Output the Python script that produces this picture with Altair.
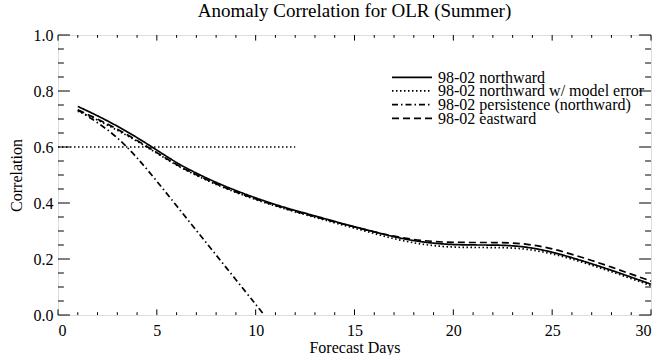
import altair as alt
import pandas as pd

W, H = 593, 280
FONT = "Liberation Serif"

days = list(range(1, 31))
northward = [0.745, 0.712, 0.675, 0.634, 0.589, 0.543, 0.506, 0.473, 0.444, 0.418,
             0.394, 0.373, 0.354, 0.334, 0.315, 0.297, 0.279, 0.265, 0.256, 0.251,
             0.250, 0.250, 0.248, 0.240, 0.225, 0.205, 0.183, 0.160, 0.135, 0.110]
model_error = [0.728, 0.697, 0.660, 0.621, 0.578, 0.534, 0.498, 0.466, 0.437, 0.412,
               0.389, 0.368, 0.349, 0.329, 0.310, 0.291, 0.272, 0.257, 0.247, 0.242,
               0.241, 0.241, 0.240, 0.233, 0.219, 0.200, 0.178, 0.155, 0.130, 0.105]
eastward = [0.733, 0.700, 0.664, 0.624, 0.580, 0.536, 0.500, 0.468, 0.439, 0.414,
            0.391, 0.370, 0.351, 0.332, 0.314, 0.297, 0.281, 0.269, 0.262, 0.259,
            0.259, 0.259, 0.258, 0.251, 0.237, 0.217, 0.195, 0.171, 0.146, 0.121]
persist_days = [1, 2, 3, 4, 5, 6, 7, 8, 9, 10, 10.43]
persistence = [0.732, 0.688, 0.636, 0.563, 0.478, 0.390, 0.302, 0.214, 0.126, 0.038, 0.0]

ref_days = [0, 12]
ref_vals = [0.6, 0.6]

series_names = ["98-02 northward", "98-02 northward w/ model error",
                "98-02 persistence (northward)", "98-02 eastward"]
dashes = [[1, 0], [1.5, 2.5], [6, 3, 1.5, 3], [7, 4]]

x_major = [0, 5, 10, 15, 20, 25, 30]
x_minor = [d for d in range(0, 31) if d % 5 != 0]
y_major = [0.0, 0.2, 0.4, 0.6, 0.8, 1.0]
y_minor = [round(0.05 * i, 2) for i in range(21) if i % 4 != 0]

rows = []
for d, v in zip(days, northward):
    rows.append({"day": d, "corr": v, "series": series_names[0]})
for d, v in zip(days, model_error):
    rows.append({"day": d, "corr": v, "series": series_names[1]})
for d, v in zip(persist_days, persistence):
    rows.append({"day": d, "corr": v, "series": series_names[2]})
for d, v in zip(days, eastward):
    rows.append({"day": d, "corr": v, "series": series_names[3]})
df = pd.DataFrame(rows)

xs = alt.Scale(domain=[0, 30], nice=False, zero=False)
ys = alt.Scale(domain=[0, 1], nice=False, zero=False)
dash_scale = alt.Scale(domain=series_names, range=dashes)

x_axis = alt.Axis(values=x_major, ticks=False, domain=False, grid=False,
                  labelFont=FONT, labelFontSize=16, labelPadding=7,
                  labelColor="black", title="Forecast Days", titleFont=FONT,
                  titleFontSize=16, titleFontWeight="normal", titleColor="black",
                  titlePadding=1)
y_axis = alt.Axis(values=y_major, format=".1f", ticks=False, domain=False, grid=False,
                  labelFont=FONT, labelFontSize=16, labelPadding=5,
                  labelColor="black", title="Correlation", titleFont=FONT,
                  titleFontSize=16, titleFontWeight="normal", titleColor="black",
                  titlePadding=9)

lines = alt.Chart(df).mark_line(color="black", strokeWidth=1.7, interpolate="basis").encode(
    x=alt.X("day:Q", scale=xs, axis=x_axis),
    y=alt.Y("corr:Q", scale=ys, axis=y_axis),
    strokeDash=alt.StrokeDash("series:N", scale=dash_scale, legend=None),
    detail="series:N",
)

ref_df = pd.DataFrame({"day": ref_days, "corr": ref_vals})
ref = alt.Chart(ref_df).mark_line(color="black", strokeWidth=1.4, strokeDash=[1.5, 2.5]).encode(
    x=alt.X("day:Q", scale=xs), y=alt.Y("corr:Q", scale=ys)
)

xmaj = pd.DataFrame({"v": x_major})
xmin = pd.DataFrame({"v": x_minor})
ymaj = pd.DataFrame({"v": y_major})
ymin = pd.DataFrame({"v": y_minor})

def xticks(data, length):
    base = alt.Chart(data).mark_rule(color="black", strokeWidth=1)
    b = base.encode(x=alt.X("v:Q", scale=xs), y=alt.value(H), y2=alt.value(H - length))
    t = base.encode(x=alt.X("v:Q", scale=xs), y=alt.value(0), y2=alt.value(length))
    return b + t

def yticks(data, length):
    base = alt.Chart(data).mark_rule(color="black", strokeWidth=1)
    l = base.encode(y=alt.Y("v:Q", scale=ys), x=alt.value(0), x2=alt.value(length))
    r = base.encode(y=alt.Y("v:Q", scale=ys), x=alt.value(W), x2=alt.value(W - length))
    return l + r

ticks = xticks(xmaj, 5.6) + xticks(xmin, 2.8) + yticks(ymaj, 11.9) + yticks(ymin, 5.9)

main = alt.layer(ticks, ref, lines)

# IDL-style legend block in the upper right
leg_df = pd.DataFrame({"series": series_names})
leg_y = alt.Y("series:N", scale=alt.Scale(type="point", domain=series_names,
                                           range=[42.3, 83.3], padding=0), axis=None)
leg_lines = alt.Chart(leg_df).mark_rule(color="black", strokeWidth=1.7).encode(
    x=alt.value(334), x2=alt.value(374), y=leg_y,
    strokeDash=alt.StrokeDash("series:N", scale=dash_scale, legend=None),
)
leg_text = alt.Chart(leg_df).mark_text(align="left", baseline="middle", font=FONT,
                                       fontSize=16, color="black", dy=0.5).encode(
    x=alt.value(380), y=leg_y, text="series:N",
)
legend = alt.layer(leg_lines, leg_text)

chart = alt.layer(main, legend).resolve_scale(y="independent").properties(
    width=W, height=H,
    title=alt.Title("Anomaly Correlation for OLR (Summer)", font=FONT, fontSize=19,
                    fontWeight="normal", color="black", offset=6),
    autosize=alt.AutoSizeParams(type="none"),
    padding={"left": 58, "top": 35, "right": 6, "bottom": 40},
).configure_view(stroke="black", strokeWidth=1.2).configure(background="white")

chart.save("out.html", embed_options={"renderer": "svg", "actions": False})
